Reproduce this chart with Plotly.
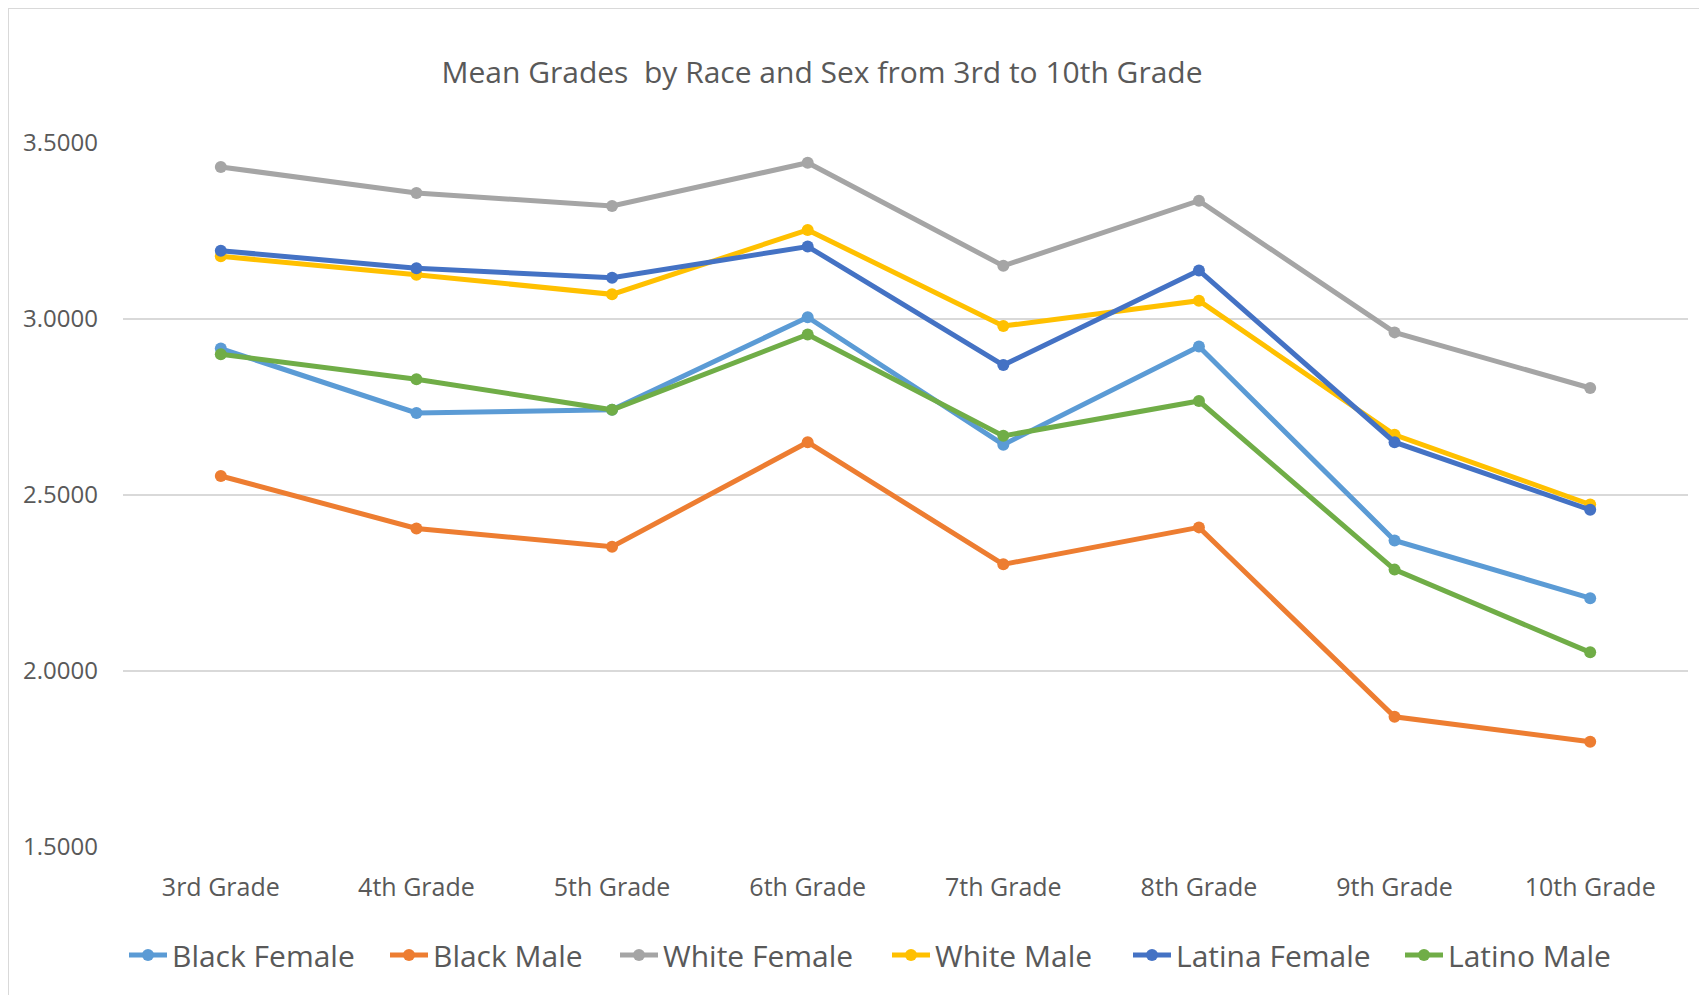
import plotly.graph_objects as go

grades = ["3rd Grade", "4th Grade", "5th Grade", "6th Grade", "7th Grade", "8th Grade", "9th Grade", "10th Grade"]

black_female = [2.916, 2.733, 2.742, 3.005, 2.643, 2.922, 2.371, 2.207]
black_male = [2.554, 2.405, 2.353, 2.650, 2.303, 2.408, 1.870, 1.799]
white_female = [3.432, 3.358, 3.321, 3.444, 3.151, 3.336, 2.962, 2.804]
white_male = [3.178, 3.126, 3.070, 3.253, 2.980, 3.052, 2.671, 2.473]
latina_female = [3.194, 3.144, 3.117, 3.206, 2.869, 3.138, 2.650, 2.458]
latino_male = [2.900, 2.829, 2.742, 2.956, 2.668, 2.767, 2.288, 2.053]

series = [
    ("Black Female", black_female, "#5B9BD5", 208),
    ("Black Male", black_male, "#ED7D31", 177),
    ("White Female", white_female, "#A5A5A5", 219),
    ("White Male", white_male, "#FFC000", 188),
    ("Latina Female", latina_female, "#4472C4", 219),
    ("Latino Male", latino_male, "#70AD47", 165),
]

W, H = 1707, 995
OFF = 8  # page body margin
ML, MR, MT, MB = 123 - OFF, 19 + OFF, 143 - OFF, 148 + OFF

fig = go.Figure()
for name, vals, color, lw in series:
    fig.add_trace(go.Scatter(
        x=grades, y=vals, name=name, mode="lines+markers",
        line=dict(color=color, width=5),
        marker=dict(color=color, size=12),
        legendwidth=lw,
    ))

pw = W - ML - MR
ph = H - MT - MB

def px_x(px):
    return (px - OFF - ML) / pw

def px_y(py):
    return (H - MB - (py - OFF)) / ph

fig.update_layout(
    width=W, height=H,
    margin=dict(l=ML, r=MR, t=MT, b=MB),
    paper_bgcolor="white", plot_bgcolor="white",
    font=dict(family="Open Sans", color="#595959"),
    title=dict(
        text="Mean Grades  by Race and Sex from 3rd to 10th Grade",
        xref="container", yref="container",
        x=(822 - OFF) / W, xanchor="center",
        y=1 - (72 - OFF) / H, yanchor="middle",
        font=dict(size=30, color="#595959", family="Open Sans"),
    ),
    xaxis=dict(
        type="category", range=[-0.5, 7.5],
        showgrid=False, showline=False, zeroline=False,
        tickfont=dict(size=25, color="#595959"),
        ticks="", ticklabelstandoff=23,
        fixedrange=True,
    ),
    yaxis=dict(
        range=[1.5, 3.5], dtick=0.5, tick0=1.5,
        tickformat=".4f",
        showgrid=True, gridcolor="#D9D9D9", gridwidth=1.5,
        zeroline=False, showline=False,
        tickfont=dict(size=24, color="#595959"),
        ticks="", ticklabelstandoff=24,
        fixedrange=True,
    ),
    legend=dict(
        orientation="h", x=px_x(124), xanchor="left",
        y=px_y(955), yanchor="middle",
        font=dict(size=30, color="#595959"),
        itemwidth=38, tracegroupgap=0,
        bgcolor="rgba(0,0,0,0)",
    ),
    showlegend=True,
    shapes=[
        dict(type="line", xref="paper", yref="paper",
             x0=px_x(8), x1=px_x(W + 20), y0=px_y(8), y1=px_y(8),
             line=dict(color="#D9D9D9", width=2)),
        dict(type="line", xref="paper", yref="paper",
             x0=px_x(8), x1=px_x(8), y0=px_y(8), y1=px_y(H + 20),
             line=dict(color="#D9D9D9", width=2)),
    ],
)

fig.write_html("out.html")
